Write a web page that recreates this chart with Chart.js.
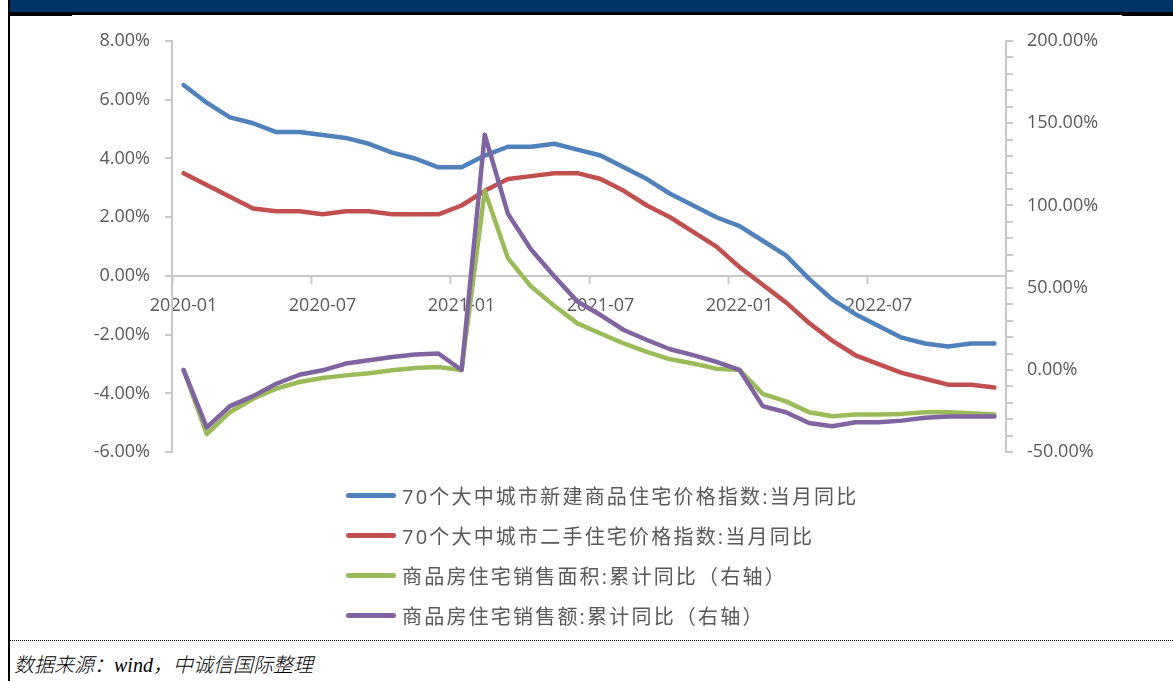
<!DOCTYPE html>
<html>
<head>
<meta charset="utf-8">
<script src="https://cdn.jsdelivr.net/npm/chart.js@4.4.0/dist/chart.umd.min.js"></script>
<style>
  html, body { margin: 0; padding: 0; background: #fff; }
  #page { position: relative; width: 1173px; height: 681px; overflow: hidden; }
  #topbar { position: absolute; left: 10px; top: 0; width: 1163px; height: 12px; background: #003366; }
  #topline { position: absolute; left: 10px; top: 12px; width: 1163px; height: 3px; background: #000; }
  #seg1 { position: absolute; left: 10px; top: 15px; width: 62px; height: 1px; background: #000; }
  #seg2 { position: absolute; left: 1122px; top: 15px; width: 51px; height: 1px; background: #000; }
  #leftborder { position: absolute; left: 8px; top: 0; width: 2px; height: 681px; background: #000; }
  #chartbox { position: absolute; left: 0; top: 0; width: 1173px; height: 478px; }
  #legend { position: absolute; left: 346px; top: 475px; font-family: "Open Sans", "Noto Sans CJK SC"; font-size: 20px; color: #595959; letter-spacing: 2.2px; }
  .item { height: 40px; display: flex; align-items: center; white-space: nowrap; }
  .swatch { width: 50px; height: 5px; border-radius: 3px; margin-right: 6px; }
  #dots { position: absolute; left: 10px; top: 640px; width: 1163px; border-top: 1px dotted #000; }
  #source { position: absolute; left: 14px; top: 649px; font-family: "Liberation Serif", "Noto Sans CJK SC"; font-style: italic; font-weight: 300; font-size: 20px; color: #000; }
</style>
</head>
<body>
<div id="page">
  <div id="chartbox"><canvas id="chart" width="1173" height="478"></canvas></div>
  <div id="topbar"></div>
  <div id="topline"></div>
  <div id="seg1"></div>
  <div id="seg2"></div>
  <div id="leftborder"></div>
  <div id="legend"></div>
  <div id="dots"></div>
  <div id="source">数据来源：wind，中诚信国际整理</div>
</div>
<script>
// ===== Dados =====
const months = [
  '2020-01','2020-02','2020-03','2020-04','2020-05','2020-06','2020-07','2020-08','2020-09','2020-10','2020-11','2020-12',
  '2021-01','2021-02','2021-03','2021-04','2021-05','2021-06','2021-07','2021-08','2021-09','2021-10','2021-11','2021-12',
  '2022-01','2022-02','2022-03','2022-04','2022-05','2022-06','2022-07','2022-08','2022-09','2022-10','2022-11','2022-12'
];

// left axis (%)
const newHomeYoY = [6.5,5.9,5.4,5.2,4.9,4.9,4.8,4.7,4.5,4.2,4.0,3.7,
                    3.7,4.1,4.4,4.4,4.5,4.3,4.1,3.7,3.3,2.8,2.4,2.0,
                    1.7,1.2,0.7,-0.1,-0.8,-1.3,-1.7,-2.1,-2.3,-2.4,-2.3,-2.3];
const secondHandYoY = [3.5,3.1,2.7,2.3,2.2,2.2,2.1,2.2,2.2,2.1,2.1,2.1,
                       2.4,2.9,3.3,3.4,3.5,3.5,3.3,2.9,2.4,2.0,1.5,1.0,
                       0.3,-0.3,-0.9,-1.6,-2.2,-2.7,-3.0,-3.3,-3.5,-3.7,-3.7,-3.8];
// right axis (%)
const salesAreaYoY = [0,-39,-25.7,-17.5,-11.4,-7.3,-4.9,-3.3,-2.0,-0.2,1.2,1.8,
                      0,109,68,50.7,39,28.3,22.2,16.1,11.0,6.5,3.9,0.8,
                      0,-14.5,-19.1,-25.7,-28.1,-27.1,-27.1,-26.7,-25.7,-25.7,-26.3,-27.1];
const salesValueYoY = [0,-35,-22,-15.9,-8.4,-2.9,-0.2,3.9,5.9,7.9,9.4,10.0,
                       0,143,95,73.2,57,41.6,33.4,24.3,18.2,12.6,9.0,4.9,
                       0,-22,-25.7,-32.2,-34.2,-31.8,-31.8,-30.8,-29.1,-28.3,-28.3,-28.3];

const seriesNames = [
  '70个大中城市新建商品住宅价格指数:当月同比',
  '70个大中城市二手住宅价格指数:当月同比',
  '商品房住宅销售面积:累计同比（右轴）',
  '商品房住宅销售额:累计同比（右轴）'
];
const seriesColors = ['#4F81BD', '#C0504D', '#9BBB59', '#8064A2'];

// ===== Estilos =====
const axisGray = '#C8C8C8';
const textGray = '#595959';
const tickFont = { family: '"Open Sans", "Noto Sans CJK SC"', size: 18 };

const lineDs = (i, data, axis, order) => ({
  label: seriesNames[i],
  data: data,
  yAxisID: axis,
  borderColor: seriesColors[i],
  backgroundColor: seriesColors[i],
  borderWidth: 4.5,
  pointRadius: 0,
  tension: 0,
  borderJoinStyle: 'round',
  borderCapStyle: 'round',
  order: order
});

new Chart(document.getElementById('chart'), {
  type: 'line',
  data: {
    labels: months,
    datasets: [
      lineDs(0, newHomeYoY, 'y', 3),
      lineDs(1, secondHandYoY, 'y', 2),
      lineDs(2, salesAreaYoY, 'y1', 1),
      lineDs(3, salesValueYoY, 'y1', 0)
    ]
  },
  options: {
    responsive: false,
    animation: false,
    devicePixelRatio: 1,
    layout: { padding: { top: 41, bottom: 20, left: 0, right: 0 } },
    plugins: { legend: { display: false }, tooltip: { enabled: false } },
    scales: {
      x: {
        type: 'category',
        position: { y: 0 },
        offset: true,
        grid: {
          offset: true,
          drawOnChartArea: false,
          tickLength: 7,
          tickWidth: 2,
          tickColor: ctx => (ctx.index % 6 === 0 ? axisGray : 'rgba(0,0,0,0)')
        },
        border: { color: axisGray, width: 2 },
        ticks: {
          autoSkip: false,
          maxRotation: 0,
          minRotation: 0,
          padding: 12,
          color: textGray,
          font: tickFont,
          callback: (v, i) => (i % 6 === 0 ? months[i] : '')
        }
      },
      y: {
        position: 'left',
        min: -6,
        max: 8,
        grid: { drawOnChartArea: false, tickLength: 7, color: axisGray, lineWidth: 2 },
        border: { color: axisGray, width: 2 },
        ticks: { stepSize: 2, padding: 15, color: textGray, font: tickFont,
                 callback: v => v.toFixed(2) + '%' },
        afterFit: s => { s.width = 172; }
      },
      y1: {
        position: 'right',
        min: -50,
        max: 200,
        grid: { drawOnChartArea: false, tickLength: 7, color: axisGray, lineWidth: 2 },
        border: { color: axisGray, width: 2 },
        ticks: { stepSize: 10, padding: 14, color: textGray, font: tickFont, autoSkip: false,
                 callback: v => (v % 50 === 0 ? v.toFixed(2) + '%' : '') },
        afterFit: s => { s.width = 167; }
      }
    }
  }
});

// ===== Legenda (HTML) =====
const legend = document.getElementById('legend');
seriesNames.forEach((name, i) => {
  const row = document.createElement('div');
  row.className = 'item';
  row.innerHTML = `<span class="swatch" style="background:${seriesColors[i]}"></span><span>${name}</span>`;
  legend.appendChild(row);
});
</script>
</body>
</html>
